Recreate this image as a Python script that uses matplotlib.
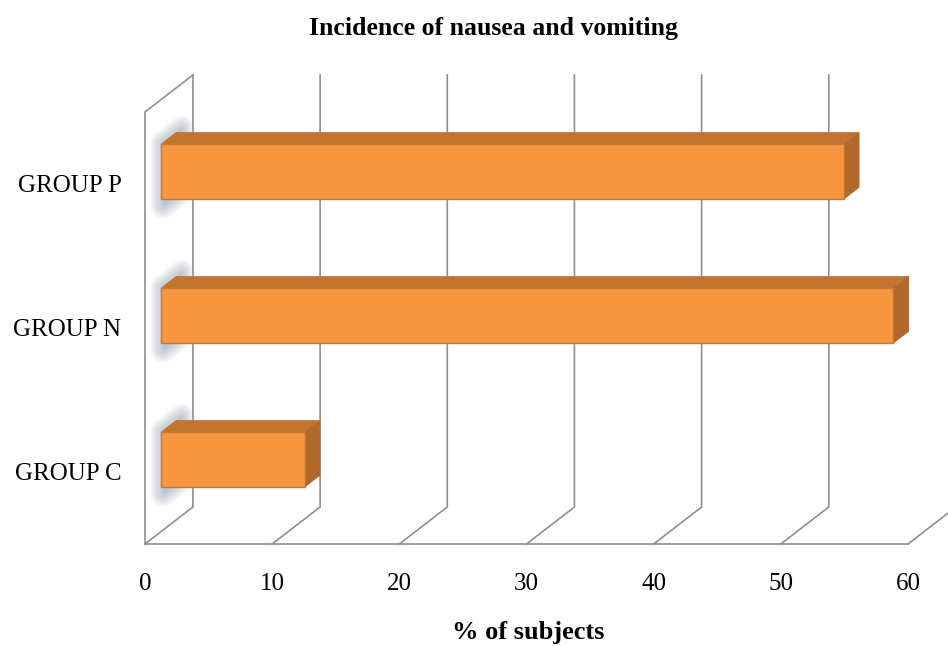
import matplotlib
matplotlib.use("Agg")
import matplotlib.pyplot as plt
from matplotlib.patches import Polygon
import numpy as np

# ---- data -------------------------------------------------------------
groups = ["GROUP C", "GROUP N", "GROUP P"]
incidence = [11.3, 57.6, 53.7]          # % of subjects
x_ticks = [0, 10, 20, 30, 40, 50, 60]

title = "Incidence of nausea and vomiting"
x_label = "% of subjects"

# ---- style ------------------------------------------------------------
FONT = ["Liberation Serif", "DejaVu Serif"]
GRID = "#8f8f8f"
FRONT = "#F7963F"
TOP = "#C27431"
SIDE = "#B2682B"
EDGE = "#C47735"

# oblique depth offset (data units for full depth)
DX, DY = 3.77, 0.257
D0, D1 = 0.33, 0.65          # depth span occupied by the bars
BAR_H = 0.38


def proj(v, c, d):
    return (v + d * DX, c + d * DY)


fig = plt.figure(figsize=(9.48, 6.46), dpi=100)
ax = fig.add_axes([145 / 948, 102 / 646, 763 / 948, 432 / 646])
ax.set_xlim(0, 60)
ax.set_ylim(-0.5, 2.5)
for s in ax.spines.values():
    s.set_visible(False)

floor, top = -0.5, 2.5
lw = 1.2

# floor front edge
ax.plot([0, 60], [floor, floor], color=GRID, lw=lw, clip_on=False, zorder=1)
# floor diagonals + back-wall gridlines
for t in x_ticks:
    p0, p1, p2 = proj(t, floor, 0), proj(t, floor, 1), proj(t, top, 1)
    ax.plot([p0[0], p1[0], p2[0]], [p0[1], p1[1], p2[1]],
            color=GRID, lw=lw, clip_on=False, zorder=1)
# left wall
a, b = proj(0, floor, 0), proj(0, top, 0)
c_ = proj(0, top, 1)
ax.plot([a[0], b[0], c_[0]], [a[1], b[1], c_[1]], color=GRID, lw=lw,
        clip_on=False, zorder=1)

# soft shadows cast on the left wall by the bar ends
for c in range(len(groups)):
    lo, hi = c - BAR_H / 2, c + BAR_H / 2
    shape = [proj(0.3, lo - 0.04, D0 - 0.04), proj(0.3, hi + 0.02, D0 - 0.04),
             proj(0.3, hi + 0.02, D1 + 0.04), proj(0.3, lo - 0.04, D1 + 0.04)]
    for w in np.linspace(18, 2, 10):
        ax.add_patch(Polygon(shape, closed=True, facecolor="none",
                             edgecolor="#8e9aae", lw=w, alpha=0.06,
                             joinstyle="round", clip_on=False, zorder=2))
    ax.add_patch(Polygon(shape, closed=True, facecolor="#9aa5b8",
                         edgecolor="none", alpha=0.3, clip_on=False, zorder=2))

# bars
for c, v in enumerate(incidence):
    lo, hi = c - BAR_H / 2, c + BAR_H / 2
    front = [proj(0, lo, D0), proj(v, lo, D0), proj(v, hi, D0), proj(0, hi, D0)]
    topf = [proj(0, hi, D0), proj(v, hi, D0), proj(v, hi, D1), proj(0, hi, D1)]
    side = [proj(v, lo, D0), proj(v, lo, D1), proj(v, hi, D1), proj(v, hi, D0)]
    ax.add_patch(Polygon(topf, closed=True, facecolor=TOP, edgecolor=TOP,
                         lw=0.6, clip_on=False, zorder=3))
    ax.add_patch(Polygon(side, closed=True, facecolor=SIDE, edgecolor=SIDE,
                         lw=0.6, clip_on=False, zorder=3))
    ax.add_patch(Polygon(front, closed=True, facecolor=FRONT, edgecolor=EDGE,
                         lw=1.0, clip_on=False, zorder=4))

# axis labels
ax.set_xticks(x_ticks)
ax.set_xticklabels([str(t) for t in x_ticks], fontsize=18, family=FONT)
ax.set_yticks(range(len(groups)))
ax.set_yticklabels(groups, fontsize=18, family=FONT)
ax.tick_params(axis="x", length=0, pad=21)
ax.tick_params(axis="y", length=0, pad=17)

fig.text(493 / 948, 1 - 29 / 646, title, ha="center", va="center",
         fontsize=18.5, fontweight="bold", family=FONT)
fig.text(528 / 948, 1 - 633 / 646, x_label, ha="center", va="center",
         fontsize=19, fontweight="bold", family=FONT)

fig.savefig("out.png", dpi=100, facecolor="white")
